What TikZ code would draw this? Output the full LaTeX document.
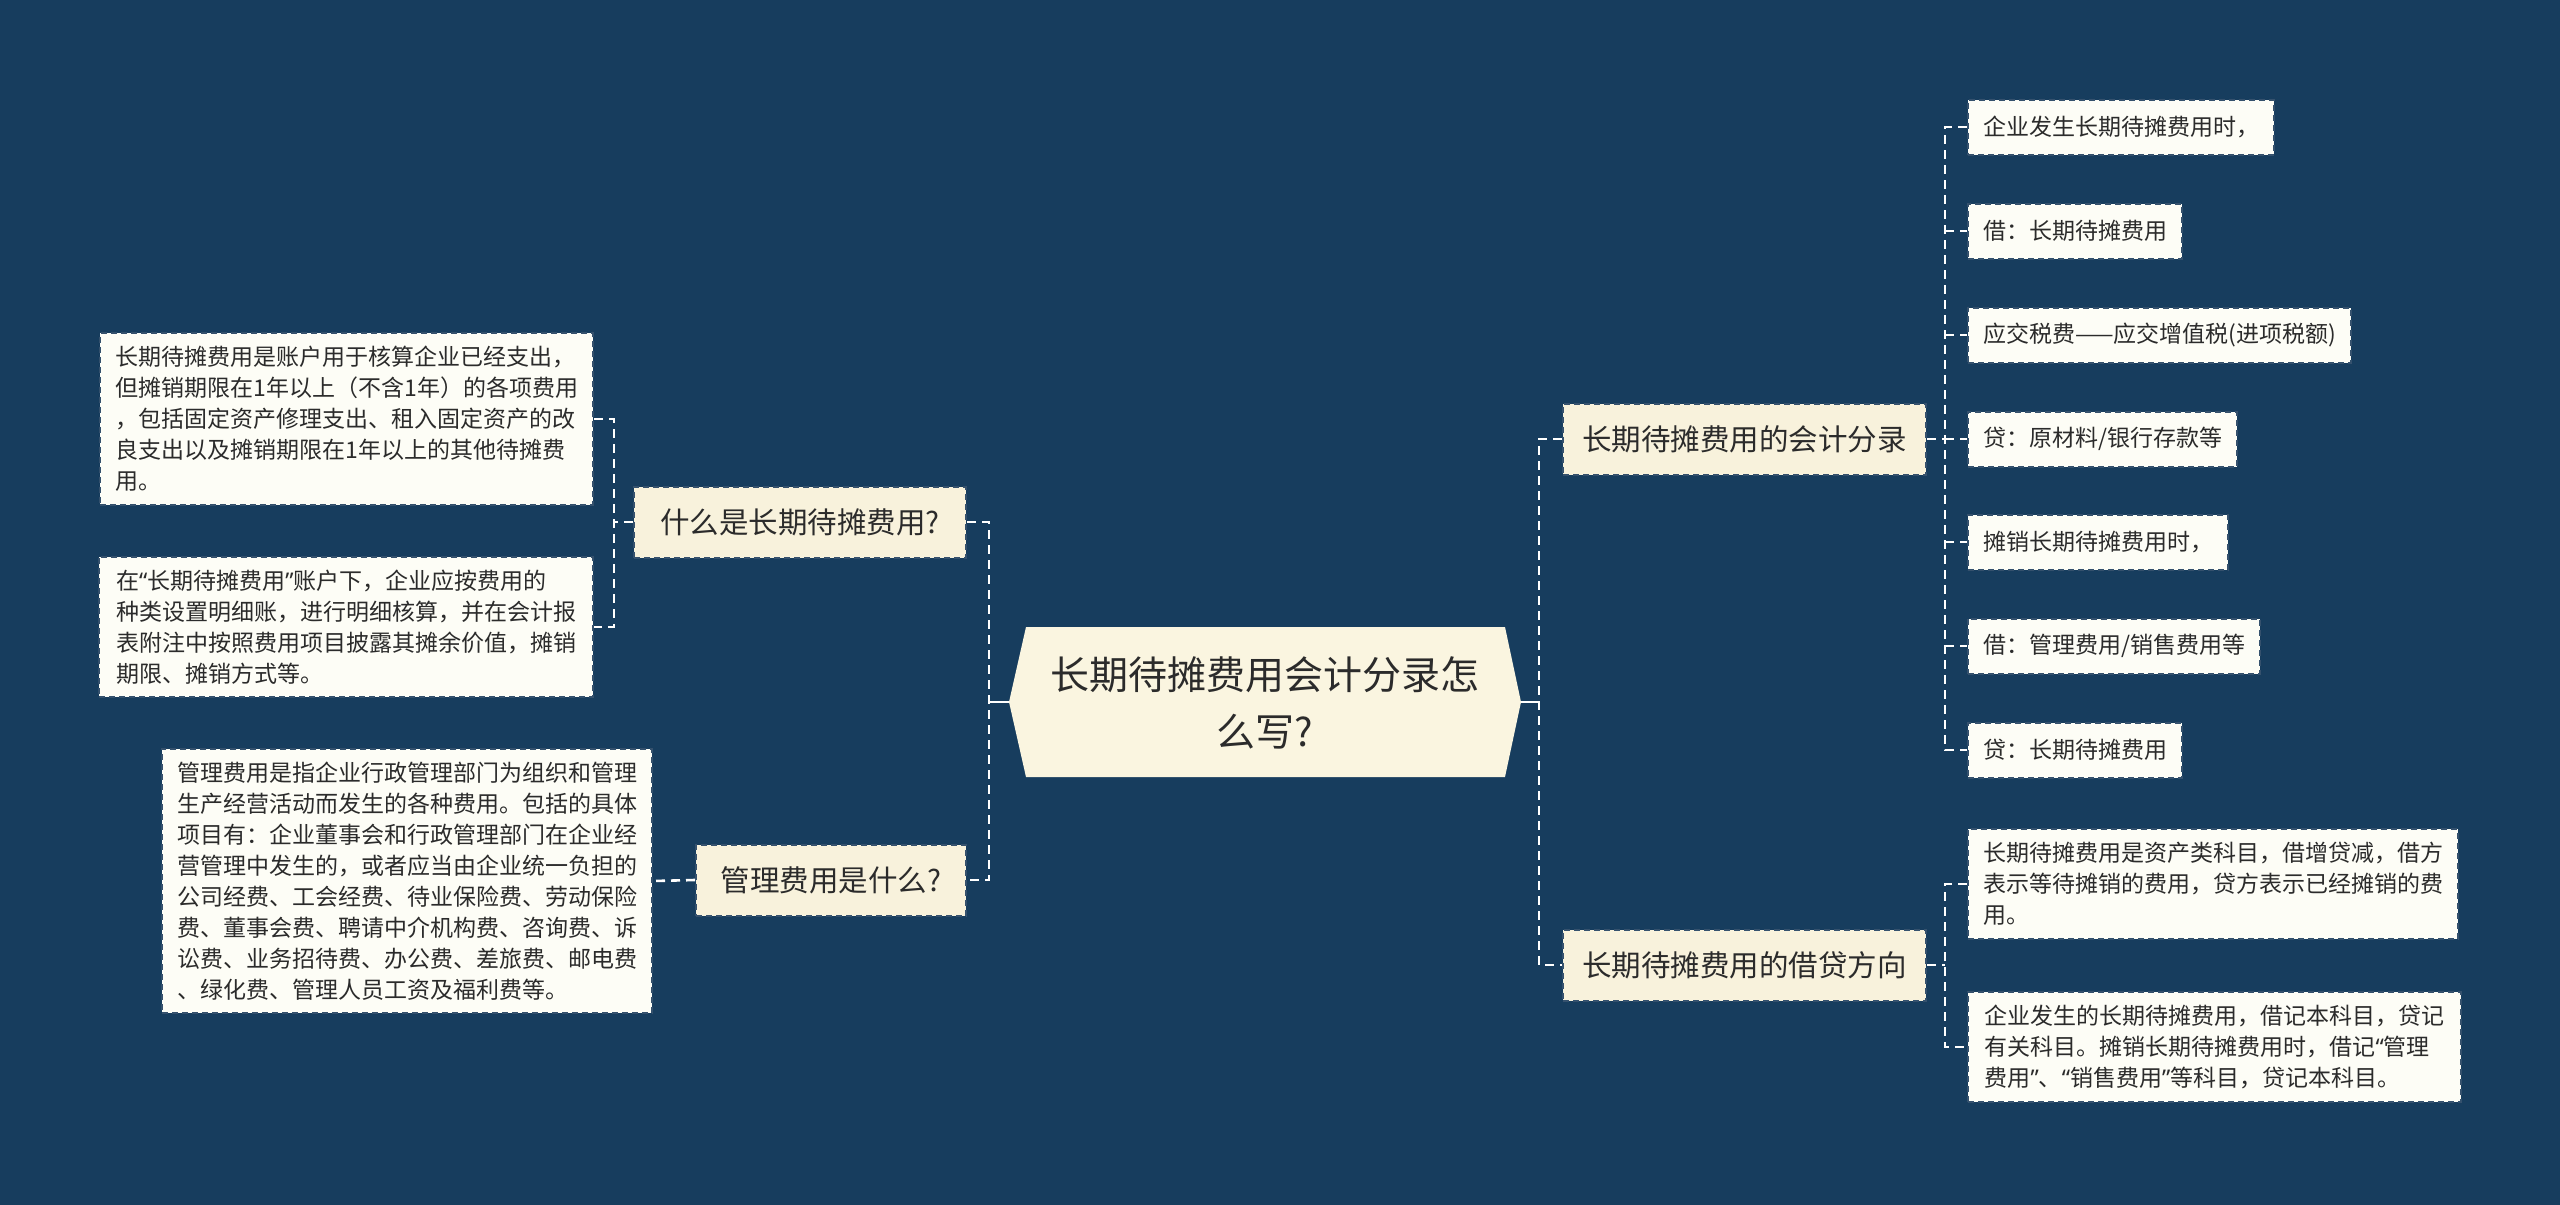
\documentclass[tikz,border=0pt]{standalone}
\usepackage{fontspec}
\setmainfont{Noto Sans CJK SC}
\newfontfamily\latinq{Noto Sans}
\newcommand{\myLq}{{\latinq “}}
\newcommand{\myRq}{{\latinq ”}}
\definecolor{bgc}{HTML}{173D5E}
\definecolor{rootc}{HTML}{FAF5E0}
\definecolor{lvc}{HTML}{F8F2DC}
\definecolor{leafc}{HTML}{FDFDF6}
\definecolor{edgec}{HTML}{35516D}
\definecolor{txtc}{HTML}{2B2B2B}
\begin{document}
\begin{tikzpicture}[x=1pt,y=-1pt,
  conn/.style={draw=white,line width=2.6pt,dash pattern=on 9pt off 6pt},
  solidconn/.style={draw=white,line width=2.6pt},
  lvbox/.style={fill=lvc,draw=edgec,line width=2pt,dash pattern=on 6pt off 4pt,
    text=txtc,font=\fontsize{29.5}{38}\selectfont,inner xsep=20pt,inner ysep=8pt,minimum height=71pt},
  leafbox/.style={fill=leafc,draw=edgec,line width=2pt,dash pattern=on 6pt off 4pt,
    text=txtc,font=\fontsize{23}{31}\selectfont,align=left,inner xsep=15pt,inner ysep=13pt,minimum height=55pt}
]
\useasboundingbox (0,0) rectangle (2560,1205);
\fill[bgc] (0,0) rectangle (2560,1205);

% central node
\fill[rootc] (1009,702) -- (1026,627) -- (1505,627) -- (1521,702) -- (1505,777) -- (1026,777) -- cycle;
\node[text=txtc,font=\fontsize{39}{57}\selectfont,align=center] (root) at (1265,703) {长期待摊费用会计分录怎\\么写?};
\coordinate (rootL) at (1009,702);
\coordinate (rootR) at (1521,702);
\coordinate (tl) at (989,702);
\coordinate (tr) at (1539,702);

% level 1
\node[lvbox,anchor=east,minimum width=332pt] (q1) at (967,522) {什么是长期待摊费用?};
\node[lvbox,anchor=east,minimum width=270pt] (q2) at (967,880) {管理费用是什么?};
\node[lvbox,anchor=west,minimum width=363pt,inner xsep=16pt] (r1) at (1562,439) {长期待摊费用的会计分录};
\node[lvbox,anchor=west,minimum width=363pt,inner xsep=16pt] (r2) at (1562,965) {长期待摊费用的借贷方向};

% left leaves
\node[leafbox,anchor=east] (l1) at (594,419) {长期待摊费用是账户用于核算企业已经支出，\\但摊销期限在1年以上（不含1年）的各项费用\\，包括固定资产修理支出、租入固定资产的改\\良支出以及摊销期限在1年以上的其他待摊费\\用。};
\node[leafbox,anchor=east,minimum width=494pt] (l2) at (594,627) {在\myLq 长期待摊费用\myRq 账户下，企业应按费用的\\种类设置明细账，进行明细核算，并在会计报\\表附注中按照费用项目披露其摊余价值，摊销\\期限、摊销方式等。};
\node[leafbox,anchor=east] (l3) at (653,881) {管理费用是指企业行政管理部门为组织和管理\\生产经营活动而发生的各种费用。包括的具体\\项目有：企业董事会和行政管理部门在企业经\\营管理中发生的，或者应当由企业统一负担的\\公司经费、工会经费、待业保险费、劳动保险\\费、董事会费、聘请中介机构费、咨询费、诉\\讼费、业务招待费、办公费、差旅费、邮电费\\、绿化费、管理人员工资及福利费等。};

% right leaves (accounting entries)
\node[leafbox,anchor=west] (a1) at (1967,127) {企业发生长期待摊费用时，};
\node[leafbox,anchor=west] (a2) at (1967,231) {借：长期待摊费用};
\node[leafbox,anchor=west] (a3) at (1967,335) {应交税费——应交增值税(进项税额)};
\node[leafbox,anchor=west] (a4) at (1967,439) {贷：原材料/银行存款等};
\node[leafbox,anchor=west] (a5) at (1967,542) {摊销长期待摊费用时，};
\node[leafbox,anchor=west] (a6) at (1967,646) {借：管理费用/销售费用等};
\node[leafbox,anchor=west] (a7) at (1967,750) {贷：长期待摊费用};

% right leaves (debit/credit direction)
\node[leafbox,anchor=west] (b1) at (1967,884) {长期待摊费用是资产类科目，借增贷减，借方\\表示等待摊销的费用，贷方表示已经摊销的费\\用。};
\node[leafbox,anchor=west,minimum width=493pt] (b2) at (1967,1047) {企业发生的长期待摊费用，借记本科目，贷记\\有关科目。摊销长期待摊费用时，借记\myLq 管理\\费用\myRq、\myLq 销售费用\myRq 等科目，贷记本科目。};

% connectors from root
\draw[solidconn] (rootL) -- (tl);
\draw[solidconn] (rootR) -- (tr);
\draw[conn] (q1.east) -| (tl) |- (q2.east);
\draw[conn] (r1.west) -| (tr) |- (r2.west);

% q1 children
\coordinate (tq1) at (614,522);
\draw[conn] (q1.west) -- (tq1);
\draw[conn] (l1.east) -| (tq1) |- (l2.east);
% q2 child
\draw[conn] (q2.west) -- (l3.east);

% r1 children
\coordinate (tr1) at (1945,439);
\draw[conn] (r1.east) -- (tr1);
\draw[conn] (a1.west) -| (tr1) |- (a7.west);
\foreach \n in {a2,a3,a4,a5,a6} {\draw[conn] (tr1 |- \n.west) -- (\n.west);}

% r2 children
\coordinate (tr2) at (1945,965);
\draw[conn] (r2.east) -- (tr2);
\draw[conn] (b1.west) -| (tr2) |- (b2.west);
\end{tikzpicture}
\end{document}
